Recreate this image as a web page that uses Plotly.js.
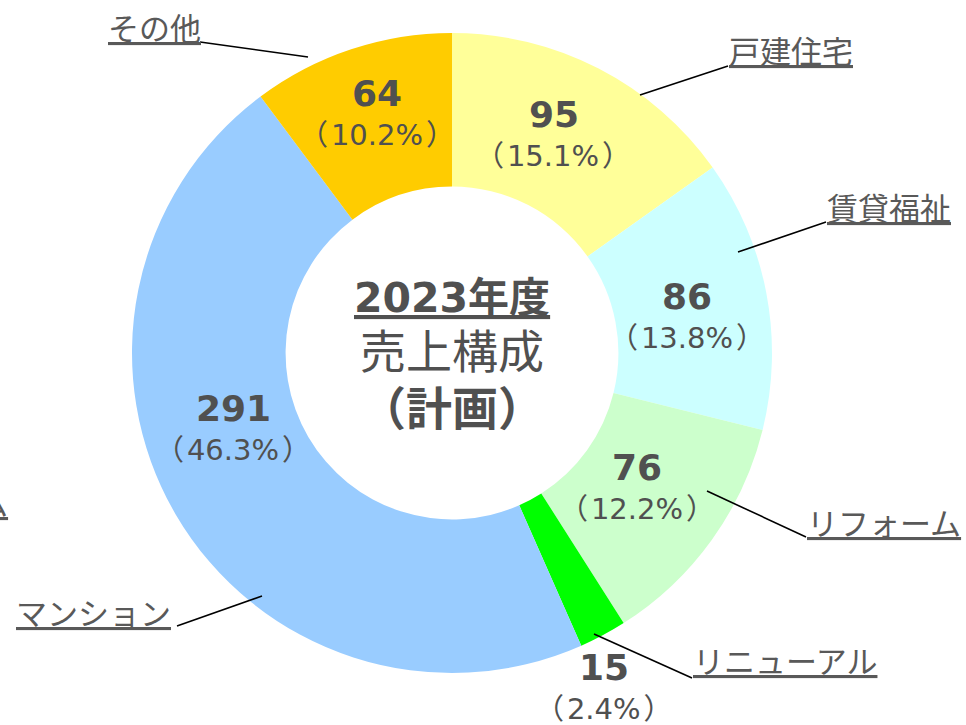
<!DOCTYPE html>
<html>
<head>
<meta charset="utf-8">
<script src="https://cdn.plot.ly/plotly-3.0.1.min.js"></script>
<style>
  html, body { margin: 0; padding: 0; background: #ffffff; }
  #chart { width: 966px; height: 725px; }
</style>
</head>
<body>
<div id="chart"></div>
<script>
// ---- data ----
const categories = ['戸建住宅', '賃貸福祉', 'リフォーム', 'リニューアル', 'マンション', 'その他'];
const values = [95, 86, 76, 15, 291, 64];
const percents = [15.1, 13.8, 12.2, 2.4, 46.3, 10.2];
const centerLines = ['2023年度', '売上構成', '（計画）'];
const strayLabel = 'リフォーム';

// ---- styles / layout ----
const sliceColors = ['#FFFF99', '#CCFFFF', '#CCFFCC', '#00FF00', '#99CCFF', '#FFCC00'];
const FONT = 'DejaVu Sans, Noto Sans CJK JP, sans-serif';
const TXT = '#505050';
const W = 966, H = 725;
const cx = 452, cy = 353, R = 320, HOLE = 0.52;
const TS = '\u200A';

// value label positions (pixel centres): [valueX, valueY, pctX, pctY]
const valuePos = [
  [554, 114, 553, 156],
  [687, 296, 687, 338],
  [637, 467, 637, 509],
  [604, 667, 603, 709],
  [233, 408, 233, 450],
  [377, 93, 377, 135]
];
// category label positions: [x, yCenter, anchor]
const catPos = [
  [727, 52, 'left'],
  [825, 209, 'left'],
  [805, 524, 'left'],
  [691, 662, 'left'],
  [14, 614, 'left'],
  [106, 29, 'left']
];
// leader lines: [x0,y0,x1,y1]
const leaders = [
  [728, 66, 640, 95],
  [826, 222, 738, 252],
  [806, 537, 707, 491],
  [692, 678, 594, 634],
  [177, 626, 262, 596],
  [200, 42, 308, 57]
];

const pie = {
  type: 'pie',
  labels: categories,
  values: values,
  sort: false,
  direction: 'clockwise',
  rotation: 0,
  hole: HOLE,
  textinfo: 'none',
  hoverinfo: 'skip',
  showlegend: false,
  marker: { colors: sliceColors, line: { width: 0 } },
  domain: {
    x: [(cx - R) / W, (cx + R) / W],
    y: [(H - cy - R) / H, (H - cy + R) / H]
  }
};

const annotations = [];
categories.forEach((c, i) => {
  const p = valuePos[i];
  annotations.push({
    xref: 'x', yref: 'y', x: p[0], y: p[1], xanchor: 'center', yanchor: 'middle',
    text: '<b>' + values[i] + '</b>', showarrow: false,
    font: { family: FONT, size: 36, color: TXT }
  });
  annotations.push({
    xref: 'x', yref: 'y', x: p[2], y: p[3], xanchor: 'center', yanchor: 'middle',
    text: '（' + TS + percents[i].toFixed(1) + '%' + TS + '）', showarrow: false,
    font: { family: FONT, size: 29, color: TXT }
  });
  const q = catPos[i];
  annotations.push({
    xref: 'x', yref: 'y', x: q[0], y: q[1], xanchor: q[2], yanchor: 'middle',
    text: '<u>' + c + '</u>', showarrow: false,
    font: { family: FONT, size: 31, color: '#595959' }
  });
});
// cut-off label at the left edge (from a neighbouring chart, as in the reference)
annotations.push({
  xref: 'x', yref: 'y', x: 10, y: 504, xanchor: 'right', yanchor: 'middle',
  text: '<u>' + strayLabel + '</u>', showarrow: false,
  font: { family: FONT, size: 31, color: '#595959' }
});
// centre text
annotations.push({
  xref: 'x', yref: 'y', x: 452, y: 298, xanchor: 'center', yanchor: 'middle',
  text: '<b><u>' + centerLines[0] + '</u></b>', showarrow: false,
  font: { family: FONT, size: 41, color: TXT }
});
annotations.push({
  xref: 'x', yref: 'y', x: 452, y: 352, xanchor: 'center', yanchor: 'middle',
  text: centerLines[1], showarrow: false,
  font: { family: FONT, size: 46, color: TXT }
});
annotations.push({
  xref: 'x', yref: 'y', x: 452, y: 409, xanchor: 'center', yanchor: 'middle',
  text: '<b>' + centerLines[2] + '</b>', showarrow: false,
  font: { family: FONT, size: 46, color: TXT }
});

const shapes = leaders.map(l => ({
  type: 'line', xref: 'x', yref: 'y',
  x0: l[0], y0: l[1], x1: l[2], y1: l[3],
  line: { color: '#000000', width: 1.6 }
}));

const layout = {
  width: W, height: H,
  margin: { l: 0, r: 0, t: 0, b: 0 },
  paper_bgcolor: '#ffffff', plot_bgcolor: 'rgba(0,0,0,0)',
  xaxis: { range: [0, W], visible: false, fixedrange: true },
  yaxis: { range: [H, 0], visible: false, fixedrange: true },
  annotations: annotations,
  shapes: shapes,
  showlegend: false
};

Plotly.newPlot('chart', [pie], layout, { displayModeBar: false, staticPlot: true });
</script>
</body>
</html>
